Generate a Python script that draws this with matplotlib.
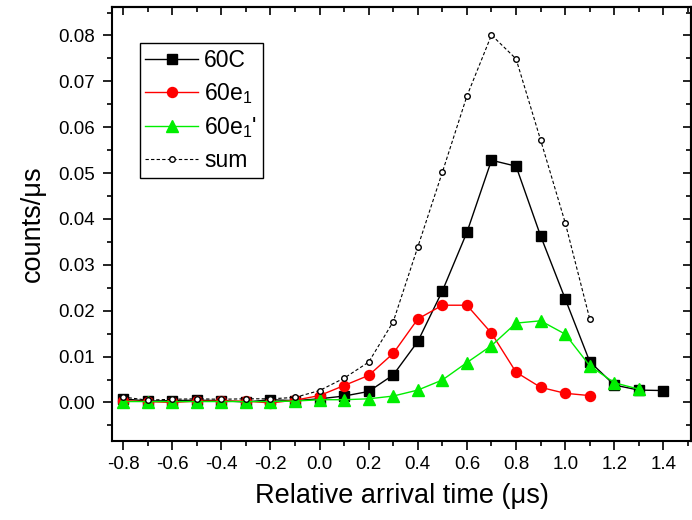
import matplotlib
matplotlib.use("Agg")
import matplotlib.pyplot as plt
from matplotlib.ticker import MultipleLocator

plt.rcParams['font.family'] = ['Liberation Sans', 'DejaVu Sans']
plt.rcParams['mathtext.default'] = 'regular'

# relative arrival time (us)
t_c = [-0.8, -0.7, -0.6, -0.5, -0.4, -0.3, -0.2, -0.1, 0.0, 0.1, 0.2, 0.3,
       0.4, 0.5, 0.6, 0.7, 0.8, 0.9, 1.0, 1.1, 1.2, 1.3, 1.4]
c60 = [0.0008, 0.0003, 0.0004, 0.0005, 0.0004, 0.0001, 0.0006, 0.0004, 0.0008,
       0.0014, 0.0024, 0.0060, 0.0133, 0.0243, 0.0371, 0.0528, 0.0515, 0.0363,
       0.0226, 0.0089, 0.0038, 0.0027, 0.0026]

t_e1 = [-0.8, -0.7, -0.6, -0.5, -0.4, -0.3, -0.2, -0.1, 0.0, 0.1, 0.2, 0.3,
        0.4, 0.5, 0.6, 0.7, 0.8, 0.9, 1.0, 1.1]
e1 = [0.0004, 0.0002, 0.0000, 0.0003, 0.0003, 0.0003, -0.0001, 0.0005, 0.0015,
      0.0037, 0.0059, 0.0107, 0.0182, 0.0212, 0.0212, 0.0151, 0.0066, 0.0033,
      0.0020, 0.0015]

t_e1p = [-0.8, -0.7, -0.6, -0.5, -0.4, -0.3, -0.2, -0.1, 0.0, 0.1, 0.2, 0.3,
         0.4, 0.5, 0.6, 0.7, 0.8, 0.9, 1.0, 1.1, 1.2, 1.3]
e1p = [0.0002, 0.0002, 0.0002, 0.0002, 0.0002, 0.0002, 0.0002, 0.0003, 0.0006,
       0.0006, 0.0008, 0.0014, 0.0027, 0.0049, 0.0087, 0.0124, 0.0173, 0.0178,
       0.0149, 0.0080, 0.0043, 0.0029]

t_sum = [-0.8, -0.7, -0.6, -0.5, -0.4, -0.3, -0.2, -0.1, 0.0, 0.1, 0.2, 0.3,
         0.4, 0.5, 0.6, 0.7, 0.8, 0.9, 1.0, 1.1]
total = [0.0012, 0.0005, 0.0007, 0.0008, 0.0007, 0.0008, 0.0008, 0.0011, 0.0026,
         0.0053, 0.0088, 0.0176, 0.0339, 0.0502, 0.0668, 0.0801, 0.0749, 0.0572,
         0.0392, 0.0182]

fig = plt.figure(figsize=(6.92, 5.2), dpi=100)
ax = fig.add_axes([0.1618, 0.1519, 0.8367, 0.8346])

ax.plot(t_c, c60, '-s', color='black', lw=1, ms=6.5, label='60C')
ax.plot(t_e1, e1, '-o', color='red', mfc='red', mec='red', lw=1, ms=7.2, label='60e$_1$')
ax.plot(t_e1p, e1p, '-^', color='#00ee00', mfc='#00ee00', mec='#00ee00', lw=1, ms=8,
        label="60e$_1$'")
ax.plot(t_sum, total, '--o', color='black', mfc='white', mec='black', lw=0.8, ms=4,
        dashes=(3, 2), label='sum')

ax.set_xlim(-0.845, 1.512)
ax.set_ylim(-0.0084, 0.0862)

ax.xaxis.set_major_locator(MultipleLocator(0.2))
ax.xaxis.set_minor_locator(MultipleLocator(0.1))
ax.yaxis.set_major_locator(MultipleLocator(0.01))
ax.yaxis.set_minor_locator(MultipleLocator(0.005))
ax.xaxis.set_major_formatter(lambda v, p: f"{v:.1f}".replace('-0.0', '0.0'))
ax.yaxis.set_major_formatter(lambda v, p: f"{v:.2f}")

ax.tick_params(which='major', direction='out', length=6.5, width=1.2, labelsize=13.5)
ax.tick_params(which='minor', direction='out', length=3.5, width=1.2)
ax.tick_params(axis='x', which='major', pad=4.5)
ax.tick_params(axis='y', which='major', pad=5.5)

top = ax.secondary_xaxis('top')
top.xaxis.set_major_locator(MultipleLocator(0.2))
top.xaxis.set_minor_locator(MultipleLocator(0.1))
top.tick_params(which='major', direction='in', length=6, width=1.2, labeltop=False)
top.tick_params(which='minor', direction='in', length=3.5, width=1.2)
right = ax.secondary_yaxis('right')
right.yaxis.set_major_locator(MultipleLocator(0.01))
right.yaxis.set_minor_locator(MultipleLocator(0.005))
right.tick_params(which='major', direction='in', length=6, width=1.2, labelright=False)
right.tick_params(which='minor', direction='in', length=3.5, width=1.2)

for s in ax.spines.values():
    s.set_linewidth(1.5)
top.spines['top'].set_linewidth(1.5)
right.spines['right'].set_linewidth(1.5)

ax.set_xlabel('Relative arrival time (μs)', fontsize=19.5, labelpad=7)
ax.set_ylabel('counts/μs', fontsize=19.5, labelpad=9)

leg = ax.legend(loc='upper left', bbox_to_anchor=(0.048, 0.917), fontsize=16.5,
                frameon=True, fancybox=False, edgecolor='black', framealpha=1,
                handlelength=2.3, handletextpad=0.25, borderpad=0.25, labelspacing=0.4,
                borderaxespad=0)
leg.get_frame().set_linewidth(1)

fig.savefig('out.png', dpi=100)
